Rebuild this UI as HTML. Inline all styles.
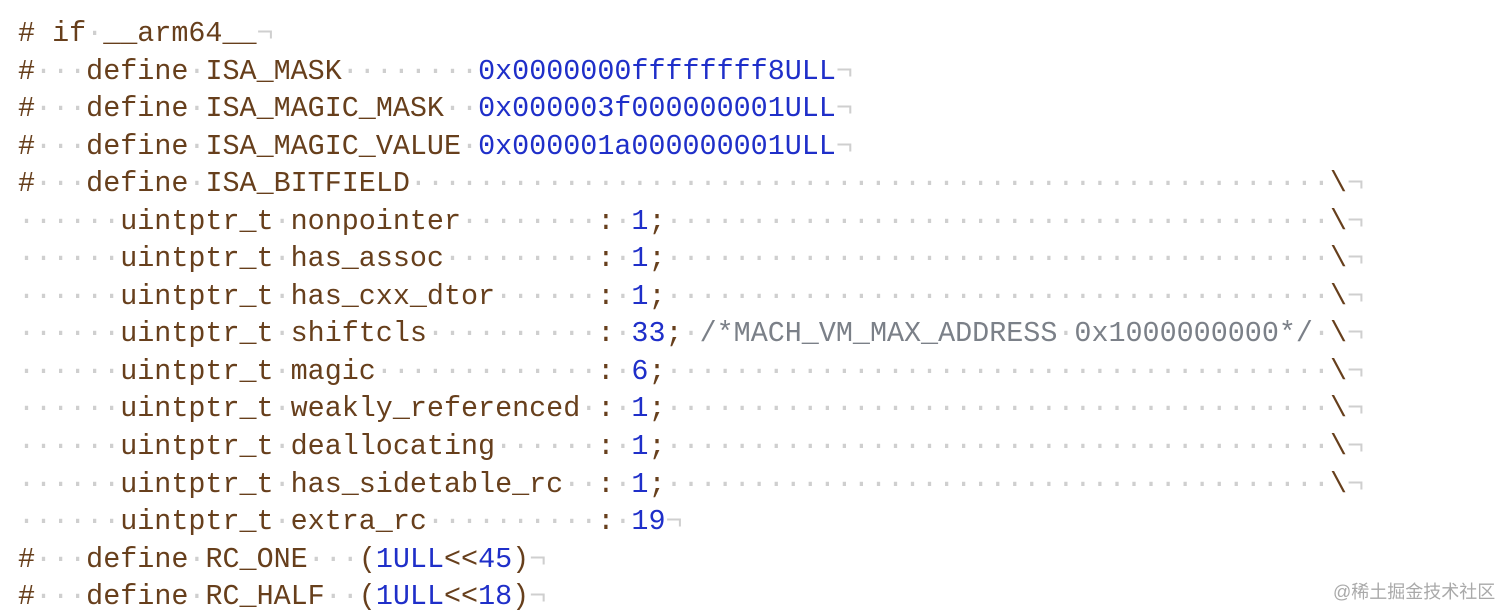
<!DOCTYPE html>
<html><head><meta charset="utf-8"><style>
html,body{margin:0;padding:0;background:#fff;width:1512px;height:616px;overflow:hidden}
pre{position:absolute;left:18px;top:15px;margin:0;font-family:"Liberation Mono",monospace;font-size:28.4px;line-height:37.55px;color:#673f1c}
.d{color:#cfcfcf}
.n{color:#1f2fc9}
.c{color:#7b8088}
.wm{position:absolute;left:1333px;top:578px;font-family:"Liberation Sans","Noto Sans CJK SC",sans-serif;font-size:18px;color:#a9a9a9}
</style></head><body>
<pre># if<span class="d">·</span>__arm64__<span class="d">¬</span>
#<span class="d">···</span>define<span class="d">·</span>ISA_MASK<span class="d">········</span><span class="n">0x0000000ffffffff8ULL</span><span class="d">¬</span>
#<span class="d">···</span>define<span class="d">·</span>ISA_MAGIC_MASK<span class="d">··</span><span class="n">0x000003f000000001ULL</span><span class="d">¬</span>
#<span class="d">···</span>define<span class="d">·</span>ISA_MAGIC_VALUE<span class="d">·</span><span class="n">0x000001a000000001ULL</span><span class="d">¬</span>
#<span class="d">···</span>define<span class="d">·</span>ISA_BITFIELD<span class="d">······················································</span>\<span class="d">¬</span>
<span class="d">······</span>uintptr_t<span class="d">·</span>nonpointer<span class="d">········</span>:<span class="d">·</span><span class="n">1</span>;<span class="d">·······································</span>\<span class="d">¬</span>
<span class="d">······</span>uintptr_t<span class="d">·</span>has_assoc<span class="d">·········</span>:<span class="d">·</span><span class="n">1</span>;<span class="d">·······································</span>\<span class="d">¬</span>
<span class="d">······</span>uintptr_t<span class="d">·</span>has_cxx_dtor<span class="d">······</span>:<span class="d">·</span><span class="n">1</span>;<span class="d">·······································</span>\<span class="d">¬</span>
<span class="d">······</span>uintptr_t<span class="d">·</span>shiftcls<span class="d">··········</span>:<span class="d">·</span><span class="n">33</span>;<span class="d">·</span><span class="c">/*MACH_VM_MAX_ADDRESS<span class="d">·</span>0x1000000000*/</span><span class="d">·</span>\<span class="d">¬</span>
<span class="d">······</span>uintptr_t<span class="d">·</span>magic<span class="d">·············</span>:<span class="d">·</span><span class="n">6</span>;<span class="d">·······································</span>\<span class="d">¬</span>
<span class="d">······</span>uintptr_t<span class="d">·</span>weakly_referenced<span class="d">·</span>:<span class="d">·</span><span class="n">1</span>;<span class="d">·······································</span>\<span class="d">¬</span>
<span class="d">······</span>uintptr_t<span class="d">·</span>deallocating<span class="d">······</span>:<span class="d">·</span><span class="n">1</span>;<span class="d">·······································</span>\<span class="d">¬</span>
<span class="d">······</span>uintptr_t<span class="d">·</span>has_sidetable_rc<span class="d">··</span>:<span class="d">·</span><span class="n">1</span>;<span class="d">·······································</span>\<span class="d">¬</span>
<span class="d">······</span>uintptr_t<span class="d">·</span>extra_rc<span class="d">··········</span>:<span class="d">·</span><span class="n">19</span><span class="d">¬</span>
#<span class="d">···</span>define<span class="d">·</span>RC_ONE<span class="d">···</span>(<span class="n">1ULL</span>&lt;&lt;<span class="n">45</span>)<span class="d">¬</span>
#<span class="d">···</span>define<span class="d">·</span>RC_HALF<span class="d">··</span>(<span class="n">1ULL</span>&lt;&lt;<span class="n">18</span>)<span class="d">¬</span></pre>
<div class="wm">@稀土掘金技术社区</div>
</body></html>
